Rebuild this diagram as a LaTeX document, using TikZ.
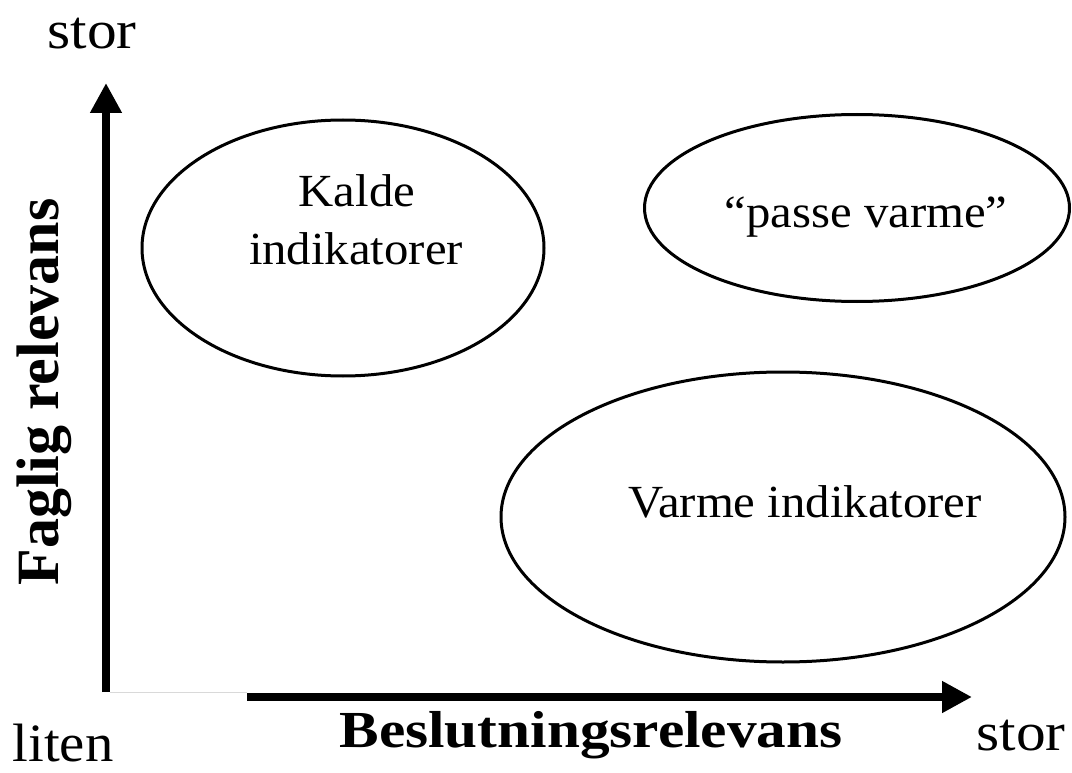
\documentclass[tikz,border=0pt]{standalone}
\usepackage{fontspec}
\usepackage{graphicx}
\setmainfont{Liberation Serif}
\usetikzlibrary{arrows.meta,shapes.geometric}
\newcommand\hstretch[2]{\scalebox{#1}[1]{#2}}
\begin{document}
\begin{tikzpicture}[x=1pt,y=-1pt,
  axisline/.style={line width=8.5pt,-{Triangle[length=30pt,width=30pt]}},
  zone/.style={draw,ellipse,line width=3pt,inner sep=0pt},
  zonetext/.style={anchor=base,inner sep=0pt,font=\fontsize{46}{58}\selectfont},
  ticktext/.style={anchor=base,inner sep=0pt,font=\fontsize{54}{60}\selectfont},
  axistext/.style={anchor=base,inner sep=0pt,font=\bfseries\fontsize{52}{60}\selectfont}]
\useasboundingbox (0,0) rectangle (1072,773);

% axes
\coordinate (origin) at (106,692);
\coordinate (ytip) at (106,83);
\coordinate (xstart) at (247,697);
\coordinate (xtip) at (972,697);
\draw[axisline] (origin) -- (ytip);
\draw[axisline] (xstart) -- (xtip);
\draw[line width=0.8pt,black!15] (110,692) -- (247,692);

% zones
\node[zone,minimum width=402pt,minimum height=256pt] (cold) at (343,248) {};
\node[zone,minimum width=425pt,minimum height=187pt] (fair) at (857,208) {};
\node[zone,minimum width=564pt,minimum height=290pt] (warm) at (783,517) {};

\node[zonetext] (cold1) at (357,207) {\hstretch{1.06}{Kalde}};
\node[zonetext] (cold2) at (356,265) {\hstretch{1.06}{indikatorer}};
\node[zonetext] (fairtext) at (866,228) {\hstretch{1.06}{“passe varme”}};
\node[zonetext] (warmtext) at (805,517) {\hstretch{1.06}{Varme indikatorer}};

% axis labels
\node[ticktext] (ymax) at (92,49) {\hstretch{1.1}{stor}};
\node[ticktext] (low) at (63,761) {\hstretch{1.05}{liten}};
\node[ticktext] (xmax) at (1021,750) {\hstretch{1.1}{stor}};
\node[axistext] (xlabel) at (591,747) {\hstretch{1.14}{Beslutningsrelevans}};
\node[axistext,font=\bfseries\fontsize{60}{60}\selectfont,rotate=90] (ylabel) at (58,392) {Faglig relevans};
\end{tikzpicture}
\end{document}
